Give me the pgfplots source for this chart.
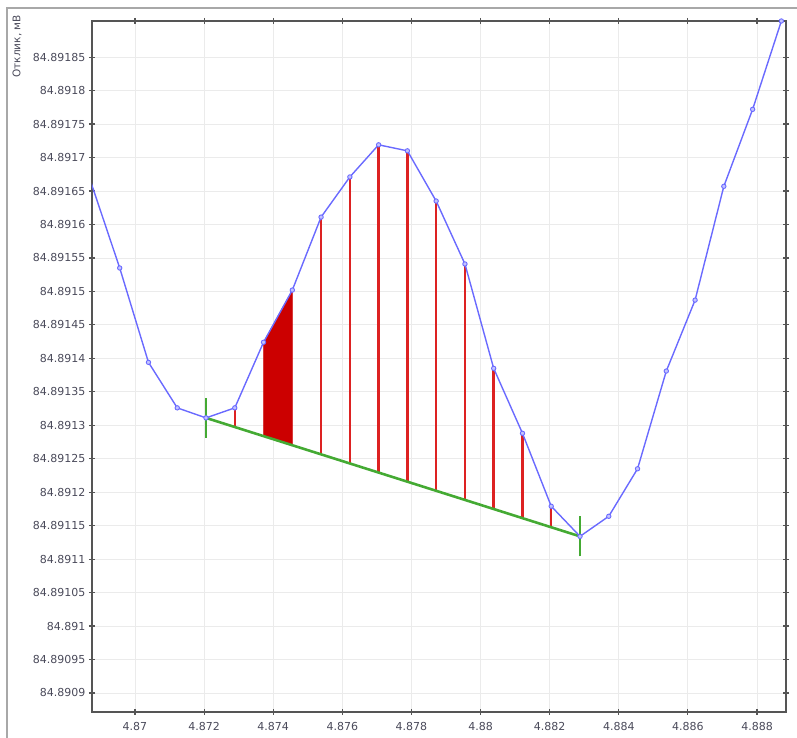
\documentclass[border=0pt]{standalone}
\usepackage{fontspec}
\setmainfont{DejaVu Sans}
\usepackage{pgfplots}
\pgfplotsset{compat=1.18}
\definecolor{curveBlue}{HTML}{6A6AFF}
\definecolor{fillRed}{HTML}{CC0000}
\definecolor{lineRed}{HTML}{DD2222}
\definecolor{baseGreen}{HTML}{44AA33}
\definecolor{gridGray}{HTML}{EBEBEB}
\definecolor{axisGray}{HTML}{555555}
\definecolor{labelGray}{HTML}{4A4A5A}
\definecolor{frameGray}{HTML}{A8A8A8}

% TeX floats cannot hold 84.8913 to 1e-6, so the data are stored as offsets:
%   x = 4.87 + X/1000,   y = 84.891 + Y/100000
\pgfplotsset{
  redline/.style={draw=lineRed, line width=2.4pt, mark=none},
  greentick/.style={draw=baseGreen, line width=2.2pt, mark=none},
}

\begin{document}
\begin{tikzpicture}
\begin{axis}[
  scale only axis,
  width=694pt, height=691pt,
  xmin=-1.244, xmax=18.839,
  ymin=-12.84, ymax=90.4,
  xtick={0,2,...,18},
  xticklabels={4.87,4.872,4.874,4.876,4.878,4.88,4.882,4.884,4.886,4.888},
  ytick={-10,-5,...,85},
  yticklabels={84.8909,84.89095,84.891,84.89105,84.8911,84.89115,84.8912,84.89125,84.8913,84.89135,
         84.8914,84.89145,84.8915,84.89155,84.8916,84.89165,84.8917,84.89175,84.8918,84.89185},
  grid=major,
  grid style={draw=gridGray, line width=0.8pt},
  axis line style={draw=axisGray, line width=1.5pt},
  tick style={draw=axisGray, line width=1.2pt},
  tick align=center,
  major tick length=6pt,
  ticklabel style={font=\fontsize{11}{13}\selectfont, text=labelGray},
  xticklabel style={yshift=-4pt},
]
  % filled strip between the 7th and 8th points
  \addplot[fill=fillRed, draw=fillRed, line width=0.5pt] coordinates {
    (3.720,42.4) (4.553,50.2) (4.553,27.0) (3.720,28.4)
  } -- cycle;
  % vertical drops to the baseline
  \addplot[redline] coordinates {(2.888,32.6) (2.888,29.7)};
  \addplot[redline] coordinates {(5.385,61.1) (5.385,25.7)};
  \addplot[redline] coordinates {(6.218,67.1) (6.218,24.3)};
  \addplot[redline] coordinates {(7.050,71.9) (7.050,22.9)};
  \addplot[redline] coordinates {(7.883,71.0) (7.883,21.6)};
  \addplot[redline] coordinates {(8.715,63.5) (8.715,20.2)};
  \addplot[redline] coordinates {(9.548,54.1) (9.548,18.9)};
  \addplot[redline] coordinates {(10.380,38.5) (10.380,17.5)};
  \addplot[redline] coordinates {(11.213,28.8) (11.213,16.1)};
  \addplot[redline] coordinates {(12.045,17.9) (12.045,14.8)};
  % baseline
  \addplot[draw=baseGreen, line width=2.6pt, mark=none] coordinates {
    (2.055,31.1) (12.878,13.4)
  };
  % response curve
  \addplot[draw=curveBlue, line width=1.4pt, mark=*, mark size=2.2pt,
    mark options={draw=curveBlue, fill=curveBlue!40, line width=0.9pt}] coordinates {
    (-1.275,66.3) (-0.442,53.5) (0.390,39.4) (1.223,32.6)
    (2.055,31.1) (2.888,32.6) (3.720,42.4) (4.553,50.2)
    (5.385,61.1) (6.218,67.1) (7.050,71.9) (7.883,71.0)
    (8.715,63.5) (9.548,54.1) (10.380,38.5) (11.213,28.8)
    (12.045,17.9) (12.878,13.4) (13.710,16.4) (14.543,23.5)
    (15.375,38.1) (16.208,48.7) (17.040,65.7) (17.873,77.2)
    (18.705,90.4)
  };
  % end markers
  \addplot[greentick] coordinates {(2.055,28.1) (2.055,34.1)};
  \addplot[greentick] coordinates {(12.878,10.4) (12.878,16.4)};
\end{axis}
\draw[frameGray, line width=1.5pt] (-85pt,-26pt) -- (-85pt,704pt) -- (705pt,704pt);
\node[rotate=90, anchor=east, text=labelGray, font=\fontsize{10.5}{12}\selectfont, inner sep=0pt]
  at (-75pt,697pt) {Отклик, мВ};
\pgfresetboundingbox
\path[use as bounding box] (-92pt,-26pt) rectangle (705pt,712pt);
\end{tikzpicture}
\end{document}
